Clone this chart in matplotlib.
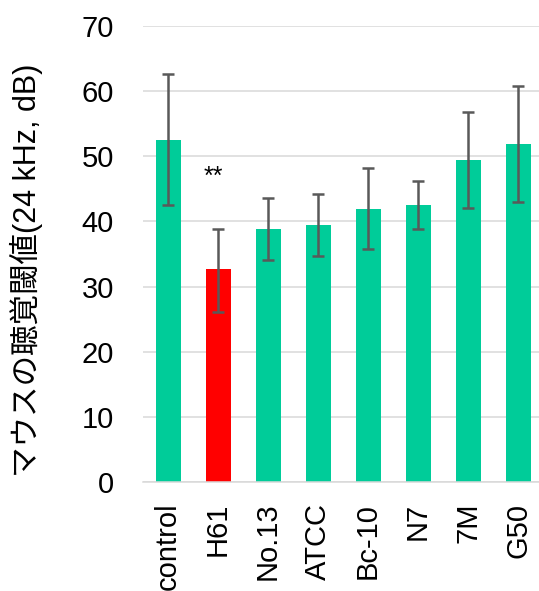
import numpy as np
import matplotlib.pyplot as plt

plt.rcParams['font.family'] = ['Liberation Sans', 'Noto Sans CJK JP', 'DejaVu Sans']

# data
labels = ['control', 'H61', 'No.13', 'ATCC', 'Bc-10', 'N7', '7M', 'G50']
means = [52.5, 32.7, 38.8, 39.4, 41.9, 42.5, 49.4, 51.9]
err_hi = [62.6, 38.8, 43.6, 44.2, 48.2, 46.2, 56.8, 60.8]
err_lo = [42.5, 26.1, 34.1, 34.7, 35.7, 38.8, 42.0, 43.0]
colors = ['#00cc99', '#ff0000', '#00cc99', '#00cc99', '#00cc99', '#00cc99', '#00cc99', '#00cc99']

means = np.array(means)
yerr = [means - np.array(err_lo), np.array(err_hi) - means]
x = np.arange(len(labels))

fig = plt.figure(figsize=(5.39, 5.91), dpi=100)
ax = fig.add_axes([143 / 539, 1 - 482 / 591, 396 / 539, 456 / 591])

ax.bar(x, means, width=0.5, color=colors, zorder=2)
ax.errorbar(x, means, yerr=yerr, fmt='none', ecolor='#595959', elinewidth=1.8,
            capsize=4.5, capthick=1.8, zorder=3)

# significance mark
ax.text(x[1] - 0.1, 45.7, '**', ha='center', va='baseline', fontsize=18)

ax.set_ylim(0, 70)
ax.set_xlim(-0.5, 7.42)
ax.set_yticks(np.arange(0, 71, 10))
ax.set_xticks(x)
ax.set_xticklabels(labels, rotation=90, fontsize=21)
ax.tick_params(axis='y', labelsize=21, length=0, pad=21)
ax.tick_params(axis='x', length=0, pad=15)
ax.yaxis.grid(True, color='#d9d9d9', linewidth=1.1, zorder=0)
ax.set_axisbelow(True)
for s in ['top', 'right', 'left']:
    ax.spines[s].set_visible(False)
ax.spines['bottom'].set_color('#d9d9d9')
ax.spines['bottom'].set_linewidth(1.1)

fig.text(26 / 539, 1 - 270 / 591, 'マウスの聴覚閾値(24 kHz, dB)', rotation=90,
         ha='center', va='center', fontsize=22)

plt.savefig('out.png', dpi=100)
